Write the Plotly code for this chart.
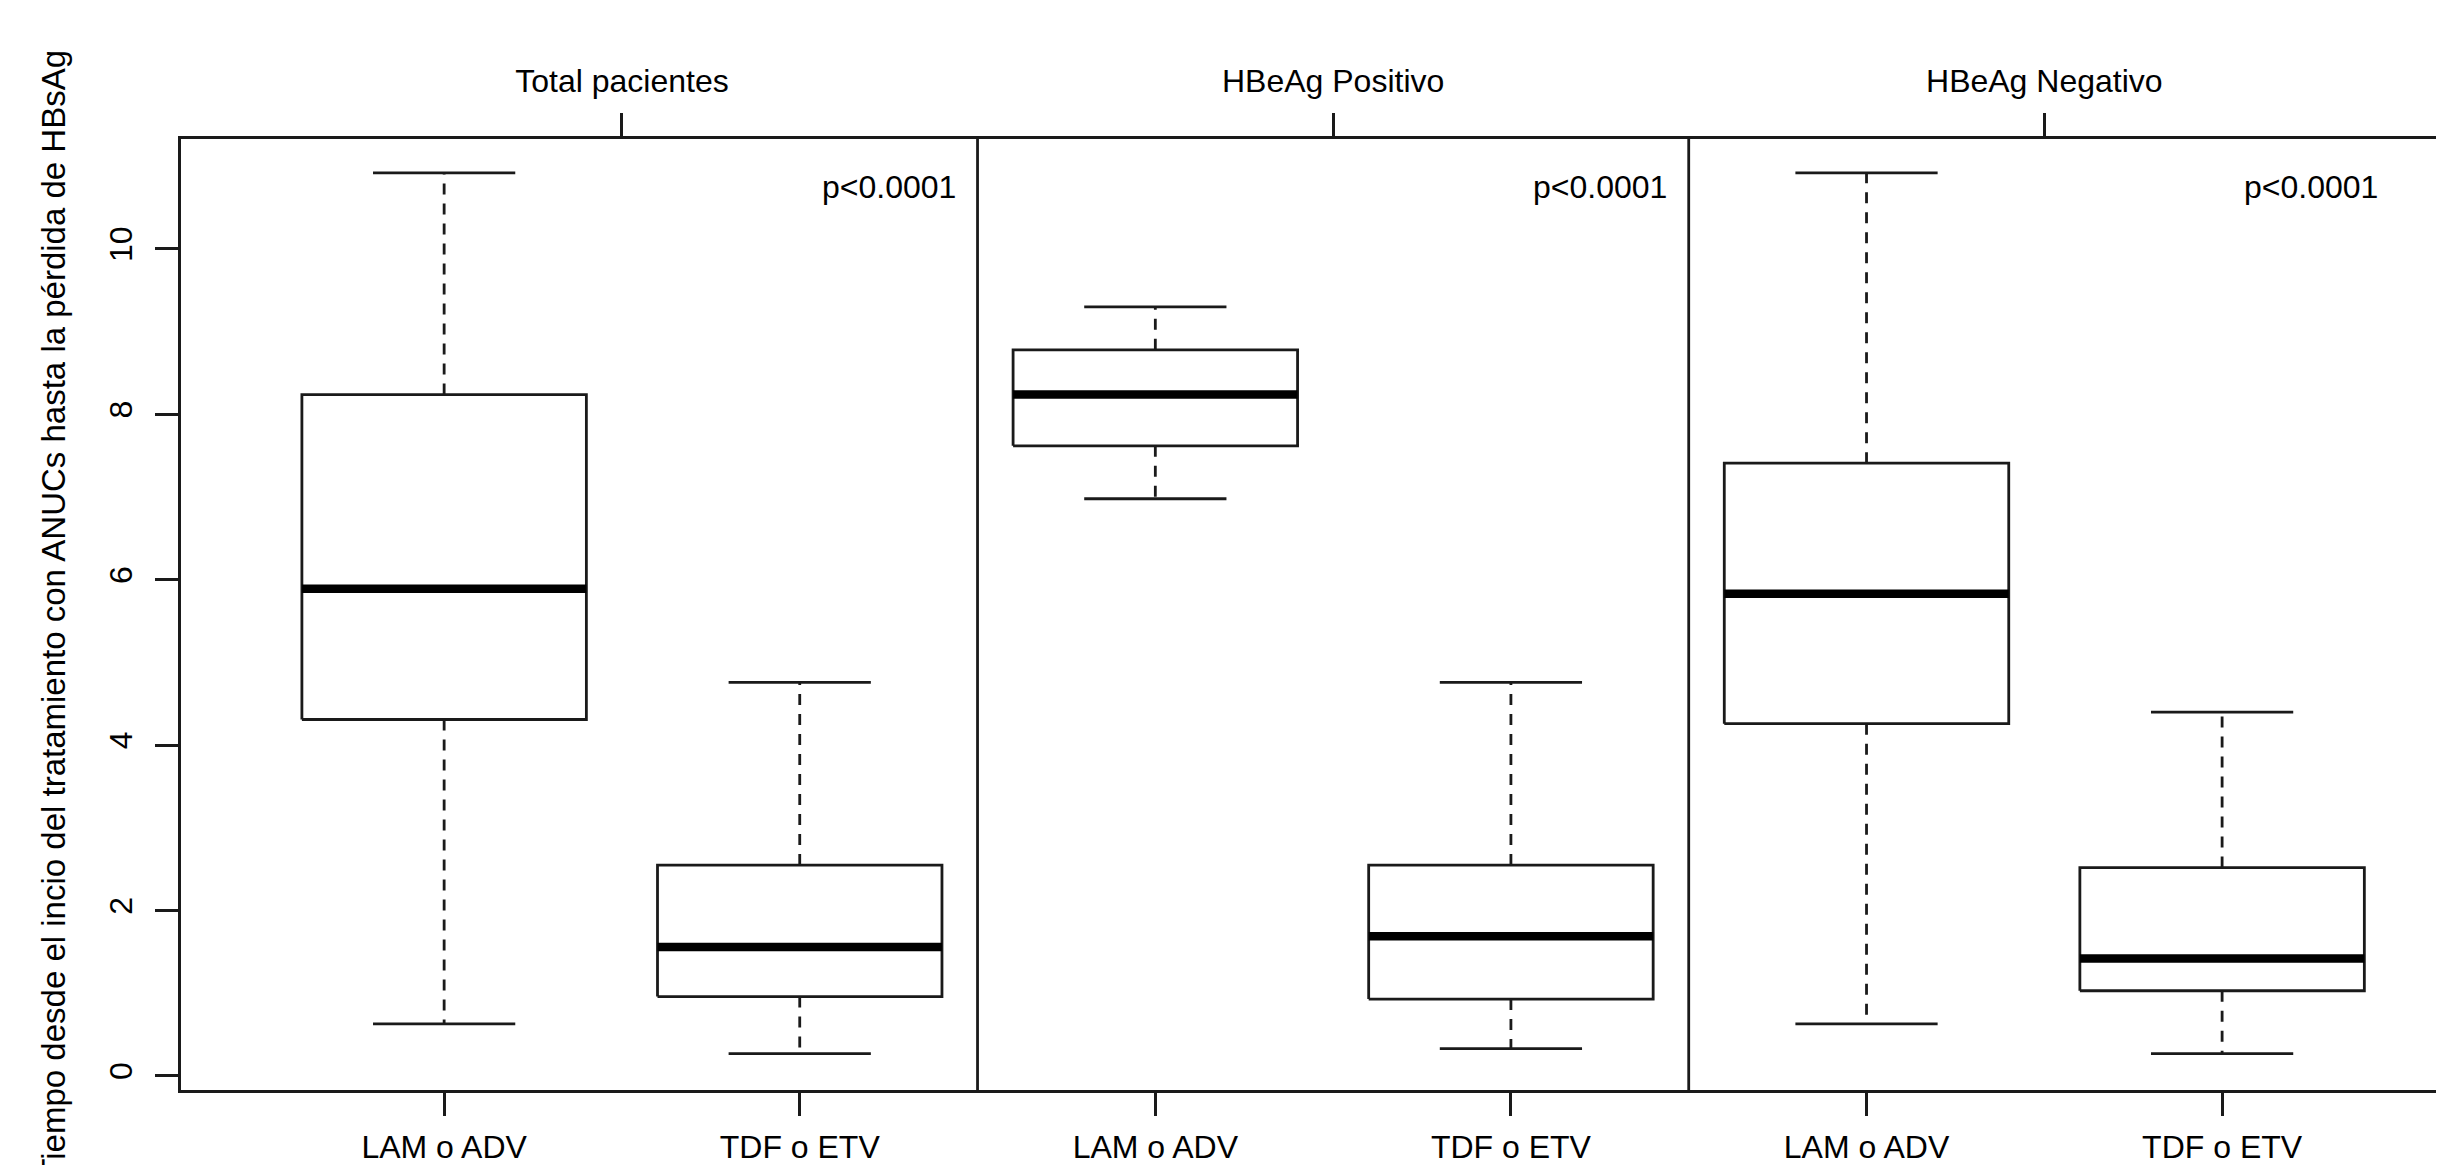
import plotly.graph_objects as go

# ---- data ----
groups = ["Total pacientes", "HBeAg Positivo", "HBeAg Negativo"]
treatments = ["LAM o ADV", "TDF o ETV"]
box_labels = ["LAM o ADV", "TDF o ETV", "LAM o ADV", "TDF o ETV", "LAM o ADV", "TDF o ETV"]
lower_whisker = [0.63, 0.27, 6.98, 0.33, 0.63, 0.27]
q1 = [4.31, 0.96, 7.62, 0.93, 4.26, 1.03]
median = [5.89, 1.56, 8.24, 1.69, 5.83, 1.42]
q3 = [8.24, 2.55, 8.78, 2.55, 7.41, 2.52]
upper_whisker = [10.92, 4.76, 9.30, 4.76, 10.92, 4.40]
p_values = ["p<0.0001", "p<0.0001", "p<0.0001"]
y_ticks = [0, 2, 4, 6, 8, 10]
y_title = "Tiempo desde el incio del tratamiento con ANUCs hasta la pérdida de HBsAg"

# ---- style ----
FONT = "Liberation Sans, Arial, sans-serif"
FS = 32
LC = "#1a1a1a"
LW = 2.8
BOXW = 0.4     # half box width (R boxwex 0.8)
CAPW = 0.2     # half staple width

positions = list(range(1, len(box_labels) + 1))

fig = go.Figure()

# box rectangles
bx, by = [], []
for x, a, b in zip(positions, q1, q3):
    bx += [x - BOXW, x + BOXW, x + BOXW, x - BOXW, x - BOXW, None]
    by += [a, a, b, b, a, None]
fig.add_trace(go.Scatter(x=bx, y=by, mode="lines",
                         line=dict(color=LC, width=LW), hoverinfo="skip"))

# dashed whiskers
wx, wy = [], []
for x, lo, a, b, hi in zip(positions, lower_whisker, q1, q3, upper_whisker):
    wx += [x, x, None, x, x, None]
    wy += [b, hi, None, a, lo, None]
fig.add_trace(go.Scatter(x=wx, y=wy, mode="lines",
                         line=dict(color=LC, width=LW, dash="11px,9px"), hoverinfo="skip"))

# staples
sx, sy = [], []
for x, lo, hi in zip(positions, lower_whisker, upper_whisker):
    sx += [x - CAPW, x + CAPW, None, x - CAPW, x + CAPW, None]
    sy += [hi, hi, None, lo, lo, None]
fig.add_trace(go.Scatter(x=sx, y=sy, mode="lines",
                         line=dict(color=LC, width=LW), hoverinfo="skip"))

# medians
mx, my = [], []
for x, m in zip(positions, median):
    mx += [x - BOXW, x + BOXW, None]
    my += [m, m, None]
fig.add_trace(go.Scatter(x=mx, y=my, mode="lines",
                         line=dict(color="black", width=8.5), hoverinfo="skip"))

# group separators
n_t = len(treatments)
for g in range(1, len(groups)):
    fig.add_vline(x=g * n_t + 0.5, line=dict(color=LC, width=LW))

# p-values
for g, p in enumerate(p_values):
    fig.add_annotation(x=g * n_t + 2.25, y=10.75, xref="x", yref="y", text=p,
                       showarrow=False, font=dict(family=FONT, size=FS, color="black"),
                       xanchor="center", yanchor="middle")

group_centers = [g * n_t + (n_t + 1) / 2 for g in range(len(groups))]

xrange = [0.26, 6.624]
yrange = [-0.17, 11.33]

common = dict(ticks="outside", ticklen=23, tickwidth=LW, tickcolor=LC,
              showline=True, linecolor=LC, linewidth=LW, showgrid=False, zeroline=False,
              automargin=False, tickfont=dict(family=FONT, size=FS, color="black"))

# page body has an 8px margin, so the figure is 8px smaller than the window
fig.update_layout(
    width=2436, height=1157,
    margin=dict(l=173, r=0, t=131, b=75, pad=0),
    paper_bgcolor="white", plot_bgcolor="white",
    showlegend=False,
    font=dict(family=FONT, size=FS, color="black"),
    xaxis=dict(range=xrange, tickmode="array", tickvals=positions, ticktext=box_labels,
               ticklabelstandoff=4, **common),
    xaxis2=dict(range=xrange, overlaying="x", side="top", tickmode="array",
                tickvals=group_centers, ticktext=groups, ticklabelstandoff=8, **common),
    yaxis=dict(range=yrange, tickmode="array", tickvals=y_ticks,
               ticktext=[str(v) for v in y_ticks], tickangle=-90,
               ticklabelstandoff=10, **common),
)

# invisible trace to activate the top axis
fig.add_trace(go.Scatter(x=[group_centers[0]], y=[None], xaxis="x2", mode="markers",
                         marker=dict(opacity=0), hoverinfo="skip", showlegend=False))

# y-axis title (the reference crop cuts its first letter at the bottom edge)
fig.add_annotation(x=-0.0565, y=0.5, xref="paper", yref="paper", text=y_title,
                   textangle=-90, showarrow=False, xanchor="center", yanchor="middle",
                   font=dict(family=FONT, size=33, color="black"))

fig.write_html("out.html")
